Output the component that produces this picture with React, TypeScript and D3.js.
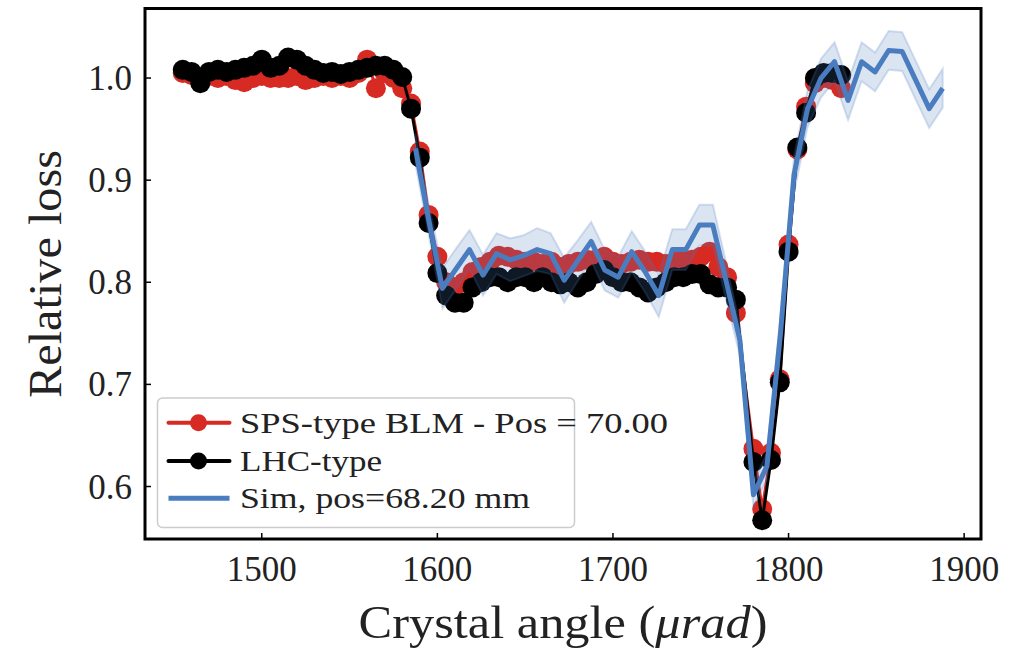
import React from 'react';
import * as d3 from 'd3';

// Measured crystal angles (µrad) for the BLM scans
const angles = [
  1455, 1460, 1465, 1470, 1475, 1480, 1485, 1490, 1495, 1500, 1505, 1510, 1515, 1520, 1525, 1530,
  1535, 1540, 1545, 1550, 1555, 1560, 1565, 1570, 1575, 1580, 1585, 1590, 1595, 1600, 1605, 1610,
  1615, 1620, 1625, 1630, 1635, 1640, 1645, 1650, 1655, 1660, 1665, 1670, 1675, 1680, 1685, 1690,
  1695, 1700, 1705, 1710, 1715, 1720, 1725, 1730, 1735, 1740, 1745, 1750, 1755, 1760, 1765, 1770,
  1780, 1785, 1790, 1795, 1800, 1805, 1810, 1815, 1820, 1825, 1830,
];

const spsLoss = [
  1.005, 1.003, 1.0, 1.002, 1.0, 1.002, 0.998, 0.996, 1.0, 1.002, 1.0, 1.0, 1.0, 1.002, 0.998, 1.0,
  1.002, 1.0, 1.002, 1.0, 1.005, 1.018, 0.99, 1.005, 1.0, 0.99, 0.975, 0.928, 0.866, 0.825, 0.8, 0.795,
  0.8, 0.81, 0.815, 0.82, 0.826, 0.825, 0.822, 0.82, 0.82, 0.818, 0.82, 0.815, 0.818, 0.82, 0.822, 0.822,
  0.825, 0.82, 0.818, 0.82, 0.822, 0.82, 0.82, 0.818, 0.82, 0.822, 0.822, 0.825, 0.83, 0.815, 0.805, 0.77,
  0.637, 0.578, 0.633, 0.705, 0.837, 0.93, 0.972, 0.995, 1.0, 0.998, 0.99,
];

const lhcLoss = [
  1.008, 1.006, 0.995, 1.006, 1.008, 1.006, 1.008, 1.01, 1.012, 1.018, 1.01, 1.012, 1.02, 1.018, 1.012, 1.008,
  1.005, 1.006, 1.004, 1.006, 1.008, 1.01, 1.012, 1.012, 1.008, 1.001, 0.97, 0.922, 0.858, 0.809, 0.787, 0.78,
  0.78, 0.795, 0.8, 0.805, 0.805, 0.8, 0.805, 0.805, 0.8, 0.805, 0.8, 0.798, 0.8, 0.795, 0.8, 0.808,
  0.812, 0.805, 0.8, 0.8, 0.795, 0.79, 0.795, 0.8, 0.805, 0.805, 0.808, 0.808, 0.798, 0.795, 0.795, 0.783,
  0.624, 0.567, 0.626, 0.702, 0.83, 0.932, 0.966, 1.0, 1.005, 1.005, 1.003,
];

// Simulation
const simAngles = [
  1587.5, 1595.2, 1602.9, 1610.6, 1618.3, 1626.0, 1633.7, 1641.4, 1649.1, 1656.8,
  1664.5, 1672.2, 1679.9, 1687.6, 1695.3, 1703.0, 1710.7, 1718.4, 1726.1, 1733.8,
  1741.5, 1749.2, 1756.9, 1764.6, 1772.3, 1780.0, 1787.7, 1795.4, 1803.1, 1810.8,
  1818.5, 1826.2, 1833.9, 1841.6, 1849.3, 1857.0, 1864.7, 1872.4, 1880.1, 1887.8,
];
const simLoss = [
  0.931, 0.86, 0.794, 0.813, 0.832, 0.807, 0.828, 0.822, 0.826, 0.832,
  0.828, 0.802, 0.821, 0.84, 0.812, 0.805, 0.83, 0.81, 0.787, 0.832,
  0.832, 0.856, 0.856, 0.8, 0.743, 0.592, 0.62, 0.75, 0.905, 0.97,
  1.0, 1.016, 0.978, 1.016, 1.006, 1.027, 1.026, 0.998, 0.97, 0.99,
];
const simErr = [
  0.015, 0.015, 0.02, 0.02, 0.019, 0.02, 0.02, 0.021, 0.02, 0.021,
  0.02, 0.022, 0.02, 0.019, 0.02, 0.02, 0.02, 0.02, 0.021, 0.02,
  0.02, 0.02, 0.02, 0.018, 0.015, 0.012, 0.013, 0.015, 0.018, 0.018,
  0.019, 0.019, 0.019, 0.019, 0.019, 0.019, 0.019, 0.019, 0.019, 0.019,
];

const xTicks = [1500, 1600, 1700, 1800, 1900];
const yTicks = [0.6, 0.7, 0.8, 0.9, 1.0];
const legendLabels = ['SPS-type BLM - Pos = 70.00', 'LHC-type', 'Sim, pos=68.20 mm'];

const RED = '#d62a22';
const BLACK = '#000000';
const BLUE = '#4a7dc0';
const FONT = '"Liberation Serif", "DejaVu Serif", serif';

export default function App() {
  const W = 1030;
  const H = 649;
  const L = 145, R = 981, T = 8.5, B = 539;

  const x = d3.scaleLinear().domain([1433.5, 1909.6]).range([L, R]);
  const y = d3.scaleLinear().domain([0.5486, 1.0681]).range([B, T]);

  const idx = d3.range(angles.length);
  const simIdx = d3.range(simAngles.length);

  const lineOf = (vals: number[]) =>
    d3.line<number>().x((i) => x(angles[i])).y((i) => y(vals[i]))(idx) || '';

  const simLine = d3.line<number>().x((i) => x(simAngles[i])).y((i) => y(simLoss[i]))(simIdx) || '';
  const simBand =
    d3
      .area<number>()
      .x((i) => x(simAngles[i]))
      .y0((i) => y(simLoss[i] - simErr[i]))
      .y1((i) => y(simLoss[i] + simErr[i]))(simIdx) || '';

  const legendColors = [RED, BLACK, BLUE];
  const legendRowY = [422.7, 461, 498.3];
  const legendTextLen = [428, 142, 290];

  return (
    <svg
      width={W}
      height={H}
      style={{ position: 'absolute', left: 0, top: 0, background: '#fff' }}
      fontFamily={FONT}
    >
      <rect x={0} y={0} width={W} height={H} fill="#fff" />
      <defs>
        <clipPath id="plotclip">
          <rect x={L} y={T} width={R - L} height={B - T} />
        </clipPath>
      </defs>

      <g clipPath="url(#plotclip)">
        {/* SPS-type BLM */}
        <path d={lineOf(spsLoss)} fill="none" stroke={RED} strokeWidth={3} />
        {idx.map((i) => (
          <circle key={'r' + i} cx={x(angles[i])} cy={y(spsLoss[i])} r={10} fill={RED} />
        ))}
        {/* LHC-type */}
        <path d={lineOf(lhcLoss)} fill="none" stroke={BLACK} strokeWidth={3} />
        {idx.map((i) => (
          <circle key={'b' + i} cx={x(angles[i])} cy={y(lhcLoss[i])} r={10} fill={BLACK} />
        ))}
        {/* Simulation band + line */}
        <path d={simBand} fill={BLUE} fillOpacity={0.2} stroke={BLUE} strokeOpacity={0.22} strokeWidth={2} />
        <path d={simLine} fill="none" stroke={BLUE} strokeWidth={5} strokeLinejoin="round" />
      </g>

      {/* Ticks */}
      {xTicks.map((t) => (
        <g key={'xt' + t}>
          <line x1={x(t)} x2={x(t)} y1={B} y2={B - 6} stroke="#000" strokeWidth={1.5} />
          <text x={x(t)} y={B + 42} textAnchor="middle" fontSize={35} fill="#222">
            {t}
          </text>
        </g>
      ))}
      {yTicks.map((t) => (
        <g key={'yt' + t}>
          <line x1={L} x2={L + 6} y1={y(t)} y2={y(t)} stroke="#000" strokeWidth={1.5} />
          <text x={132} y={y(t) + 12} textAnchor="end" fontSize={35} fill="#222">
            {t.toFixed(1)}
          </text>
        </g>
      ))}

      {/* Frame */}
      <rect x={L} y={T} width={R - L} height={B - T} fill="none" stroke="#000" strokeWidth={3} />

      {/* Axis labels */}
      <text
        x={563}
        y={638}
        textAnchor="middle"
        fontSize={46}
        fill="#222"
        textLength={409}
        lengthAdjust="spacingAndGlyphs"
      >
        Crystal angle (<tspan fontStyle="italic">μrad</tspan>)
      </text>
      <text
        transform={`translate(61, 274) rotate(-90)`}
        textAnchor="middle"
        fontSize={46}
        fill="#222"
        textLength={248}
        lengthAdjust="spacingAndGlyphs"
      >
        Relative loss
      </text>

      {/* Legend */}
      <rect
        x={157.5}
        y={398}
        width={417}
        height={129.5}
        rx={5}
        fill="#fff"
        fillOpacity={0.8}
        stroke="#cccccc"
        strokeWidth={1.5}
      />
      {legendLabels.map((lab, i) => (
        <g key={'lg' + i}>
          <line
            x1={168.5}
            x2={229.5}
            y1={legendRowY[i]}
            y2={legendRowY[i]}
            stroke={legendColors[i]}
            strokeWidth={i === 2 ? 5 : 4}
            strokeLinecap={i === 2 ? 'butt' : 'round'}
          />
          {i < 2 && <circle cx={198.5} cy={legendRowY[i]} r={8.5} fill={legendColors[i]} />}
          <text
            x={240}
            y={legendRowY[i] + 10}
            fontSize={30}
            fill="#222"
            textLength={legendTextLen[i]}
            lengthAdjust="spacingAndGlyphs"
          >
            {lab}
          </text>
        </g>
      ))}
    </svg>
  );
}
